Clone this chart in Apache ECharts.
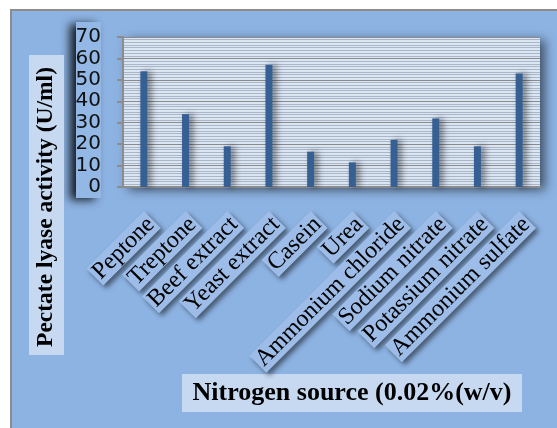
<!DOCTYPE html>
<html>
<head>
<meta charset="utf-8">
<script src="https://cdn.jsdelivr.net/npm/echarts@6/dist/echarts.min.js"></script>
<style>html,body{margin:0;padding:0;background:#fff;}#c{width:557px;height:428px;}</style>
</head>
<body>
<div id="c"></div>
<script>
const categories = ['Peptone','Treptone','Beef extract','Yeast extract','Casein','Urea','Ammonium chloride','Sodium nitrate','Potassium nitrate','Ammonium sulfate'];
const activity = [54, 34, 19, 57, 16.5, 11.5, 22, 32, 19, 53];
const yTicks = [0, 10, 20, 30, 40, 50, 60, 70];
const yTitle = 'Pectate lyase activity (U/ml)';
const xTitle = 'Nitrogen source (0.02%(w/v)';

const chart = echarts.init(document.getElementById('c'), null, {renderer: 'canvas'});
chart.setOption({
  animation: false,
  backgroundColor: '#ffffff',
  graphic: [
    {type: 'rect', z: -10, shape: {x: 11, y: 10, width: 560, height: 430},
     style: {fill: '#8db3e3', stroke: '#8c8c8c', lineWidth: 2}},
    {type: 'rect', z: -5, shape: {x: 76, y: 22, width: 25, height: 176},
     style: {fill: '#93b8e6', shadowBlur: 10, shadowColor: 'rgba(0,0,0,0.85)', shadowOffsetX: -6, shadowOffsetY: 2}},
    {type: 'rect', z: -5, shape: {x: 29, y: 55, width: 35, height: 300}, style: {fill: '#c6d9f1'}},
    {type: 'text', x: 46, y: 207, rotation: Math.PI / 2,
     style: {text: yTitle, font: 'bold 23.5px "Liberation Serif"', fill: '#000', align: 'center', verticalAlign: 'middle'}},
    {type: 'rect', z: -5, shape: {x: 182, y: 374, width: 340, height: 38}, style: {fill: '#c6d9f1'}},
    {type: 'text', x: 352, y: 393,
     style: {text: xTitle, font: 'bold 26px "Liberation Serif"', fill: '#000', align: 'center', verticalAlign: 'middle'}}
  ],
  grid: {
    left: 123, right: 17, top: 37, bottom: 241,
    show: true, backgroundColor: '#dbe6f3', borderWidth: 0,
    shadowBlur: 10, shadowColor: 'rgba(0,0,0,0.55)', shadowOffsetX: 5, shadowOffsetY: 3,
    outerBoundsMode: 'none', containLabel: false
  },
  xAxis: {
    type: 'category', data: categories,
    axisLine: {lineStyle: {color: '#8c8c8c', width: 2}},
    axisTick: {show: false},
    axisLabel: {
      interval: 0, rotate: 45, margin: 24, align: 'right', verticalAlign: 'top',
      fontFamily: 'Liberation Serif', fontSize: 24, color: '#000',
      backgroundColor: '#9dbde8', padding: [0, 2, 0, 2],
      shadowBlur: 5, shadowColor: 'rgba(0,0,0,0.5)', shadowOffsetX: 3, shadowOffsetY: 3
    }
  },
  yAxis: {
    type: 'value', min: yTicks[0], max: yTicks[yTicks.length - 1], interval: 10,
    axisLine: {show: true, lineStyle: {color: '#8c8c8c', width: 2}},
    axisTick: {show: true, length: 6, lineStyle: {color: '#8c8c8c', width: 2}},
    axisLabel: {margin: 22, fontFamily: 'DejaVu Sans', fontSize: 20, color: '#111'},
    splitLine: {lineStyle: {color: '#8a8a8a', width: 1}},
    minorTick: {show: false, splitNumber: 8},
    minorSplitLine: {show: true, lineStyle: {color: '#aab5c7', width: 1}}
  },
  series: [{
    type: 'bar', data: activity, barWidth: 7,
    itemStyle: {color: '#365f94', shadowBlur: 6, shadowColor: 'rgba(0,0,0,0.45)', shadowOffsetX: 4, shadowOffsetY: 0}
  }]
});
</script>
</body>
</html>
